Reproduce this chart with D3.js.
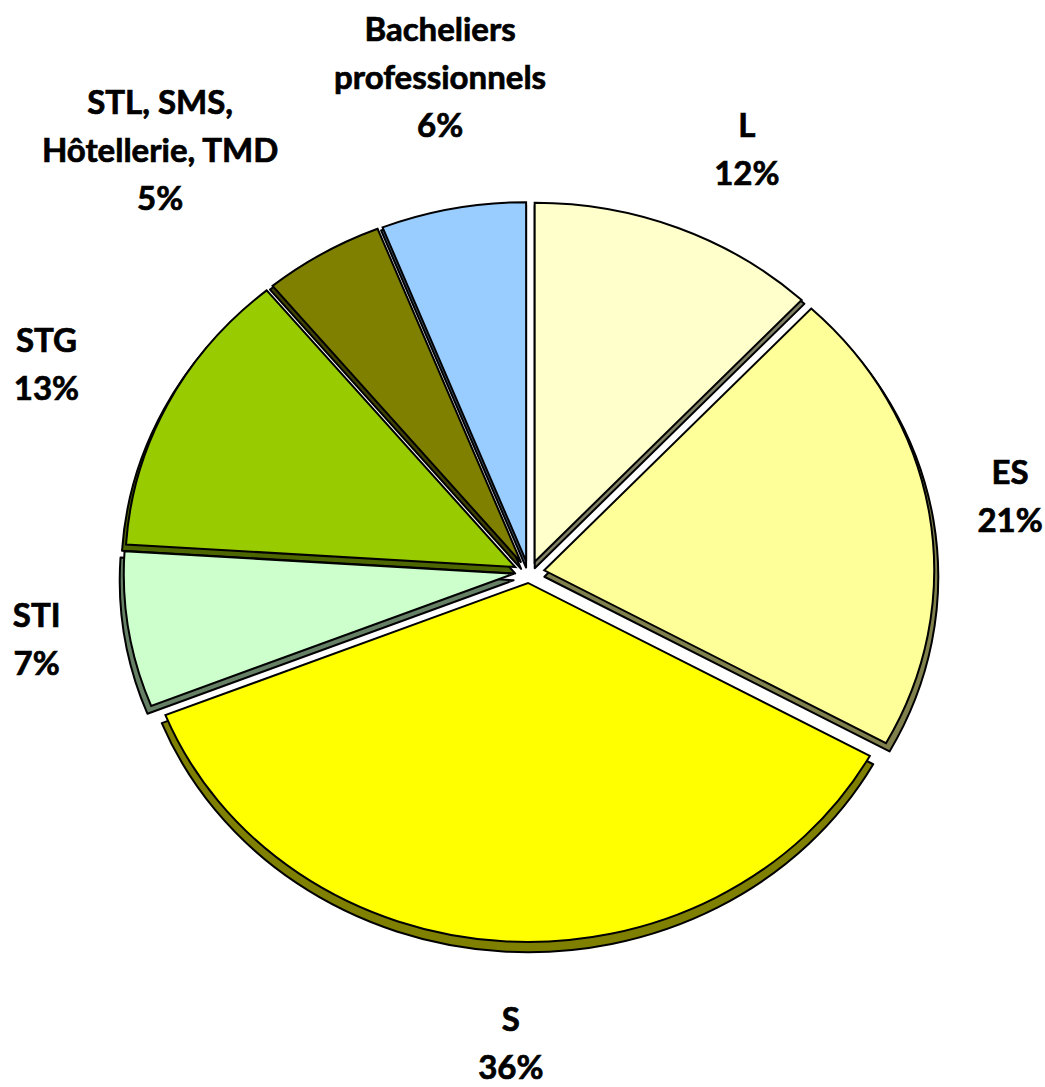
<!DOCTYPE html>
<html>
<head>
<meta charset="utf-8">
<script src="https://cdn.jsdelivr.net/npm/d3@7"></script>
<style>
  html, body { margin: 0; padding: 0; background: #ffffff; }
  svg { display: block; }
  text { font-family: Lato, "Open Sans", sans-serif; font-weight: 700; fill: #000; stroke: #000; stroke-width: 0.7px; }
</style>
</head>
<body>
<svg id="chart" width="1045" height="1087"></svg>
<script>
// ---- data ----
const categories = ["L", "ES", "S", "STI", "STG", "STL, SMS, Hôtellerie, TMD", "Bacheliers professionnels"];
const values = [12, 21, 36, 7, 13, 5, 6];
const labelLines = [
  ["L", "12%"],
  ["ES", "21%"],
  ["S", "36%"],
  ["STI", "7%"],
  ["STG", "13%"],
  ["STL, SMS,", "Hôtellerie, TMD", "5%"],
  ["Bacheliers", "professionnels", "6%"]
];
const colors = ["#FFFFCC", "#FFFF99", "#FFFF00", "#CCFFCC", "#99CC00", "#808000", "#99CCFF"];

// ---- layout (not data) ----
const W = 1045, H = 1087;
const cx = 529, cy = 572;
const rx = 390, ry = 359;
const explode = 11, explodeKx = 1.4;
const depthDy = 6.5, depthK = 1.01;
// label anchor in polar form: [angle deg, radius px]
const labelPolar = [[27.3, 475], [81.1, 487], [182.2, 472], [262.1, 497], [293.2, 525], [318.8, 560], [349.8, 502]];
const lineH = 48;
const fontSize = 33;

const svg = d3.select("#chart");
const data = categories.map((c, i) => ({ cat: c, value: values[i], color: colors[i], lines: labelLines[i], lp: labelPolar[i] }));

const pie = d3.pie().sort(null).value(d => d.value).startAngle(0).endAngle(2 * Math.PI);
const arcs = pie(data);
const R = 100;
const arc = d3.arc().innerRadius(0).outerRadius(R);

function offset(a) {
  const m = (a.startAngle + a.endAngle) / 2;
  return [explode * explodeKx * Math.sin(m), -explode * Math.cos(m)];
}
function half(col) {
  const c = d3.rgb(col);
  return d3.rgb(c.r * 0.5, c.g * 0.5, c.b * 0.5).formatHex();
}

// side (depth) layer
const sides = svg.append("g");
arcs.forEach(a => {
  const [ox, oy] = offset(a);
  sides.append("path")
    .attr("d", arc(a))
    .attr("transform", `translate(${cx + ox * depthK},${cy + oy * depthK + depthDy}) scale(${rx / R * depthK},${ry / R * depthK})`)
    .attr("fill", half(a.data.color))
    .attr("stroke", "#000")
    .attr("stroke-width", 2)
    .attr("stroke-linejoin", "round")
    .attr("vector-effect", "non-scaling-stroke");
});

// top layer
const tops = svg.append("g");
arcs.forEach(a => {
  const [ox, oy] = offset(a);
  tops.append("path")
    .attr("d", arc(a))
    .attr("transform", `translate(${cx + ox},${cy + oy}) scale(${rx / R},${ry / R})`)
    .attr("fill", a.data.color)
    .attr("stroke", "#000")
    .attr("stroke-width", 2)
    .attr("stroke-linejoin", "miter")
    .attr("vector-effect", "non-scaling-stroke");
});

// labels
const labels = svg.append("g");
arcs.forEach(a => {
  const ang = a.data.lp[0] * Math.PI / 180, r = a.data.lp[1];
  const lx = cx + r * Math.sin(ang), ly = cy - r * Math.cos(ang);
  const n = a.data.lines.length;
  const t = labels.append("text")
    .attr("text-anchor", "middle")
    .attr("font-size", fontSize);
  a.data.lines.forEach((s, i) => {
    t.append("tspan")
      .attr("x", lx)
      .attr("y", ly + (i - (n - 1) / 2) * lineH + 11)
      .text(s);
  });
});
</script>
</body>
</html>
